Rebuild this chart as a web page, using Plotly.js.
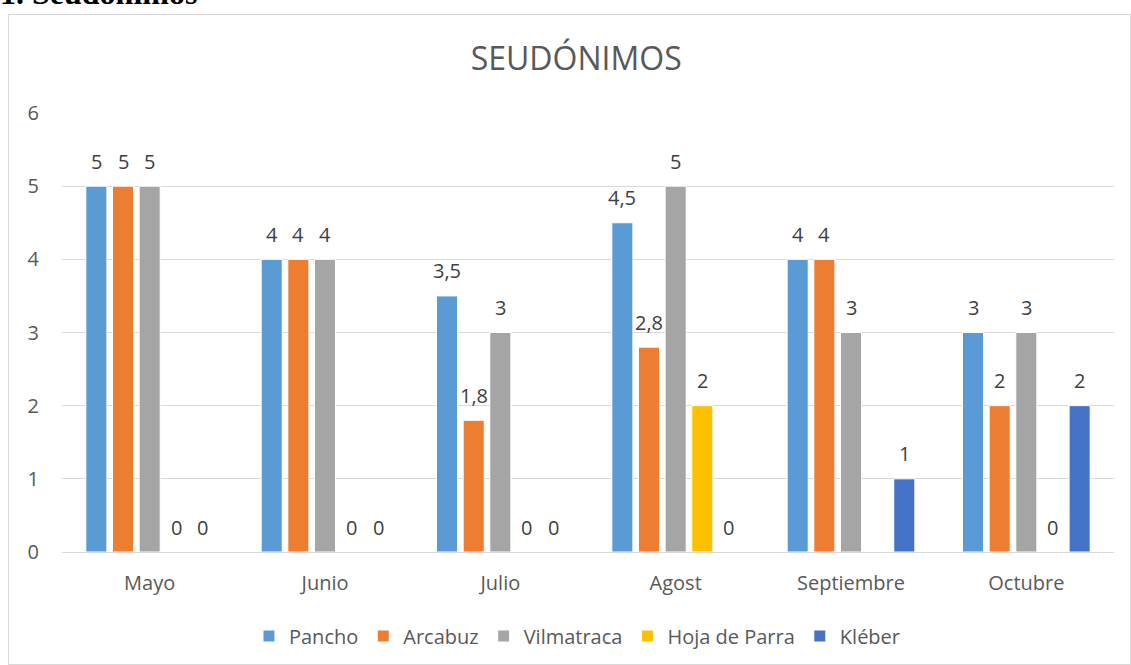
<!DOCTYPE html>
<html><head><meta charset="utf-8">
<script src="https://cdn.plot.ly/plotly-3.0.1.min.js"></script>
<style>
body{margin:0;background:#fff;overflow:hidden;width:1131px;height:665px;position:relative;}
#head{position:absolute;left:0;top:-23px;line-height:32px;font-family:"Liberation Serif",serif;font-weight:bold;font-size:32px;color:#000;white-space:nowrap;}
#chart{position:absolute;left:8px;top:14px;width:1123px;height:651px;border:1px solid #d9d9d9;box-sizing:border-box;}
</style></head><body>
<div id="head">1. Seudónimos</div>
<div id="chart"></div>
<script>
var months = ["Mayo","Junio","Julio","Agost","Septiembre","Octubre"];
var pancho = [5, 4, 3.5, 4.5, 4, 3];
var arcabuz = [5, 4, 1.8, 2.8, 4, 2];
var vilmatraca = [5, 4, 3, 5, 3, 3];
var hojaDeParra = [0, 0, 0, 2, null, 0];
var kleber = [0, 0, 0, 0, 1, 2];
var seriesNames = ["Pancho","Arcabuz","Vilmatraca","Hoja de Parra","Kléber"];
var seriesData = [pancho, arcabuz, vilmatraca, hojaDeParra, kleber];
var colors = ["#5B9BD5","#ED7D31","#A5A5A5","#FFC000","#4472C4"];

var bargap = 0.24;
var traces = seriesData.map(function(d,j){
  return {type:'bar', name:seriesNames[j], x:months, y:d,
    marker:{color:colors[j], line:{color:'#ffffff', width:1}},
    hoverinfo:'none'};
});
var n = seriesData.length;
var w = (1-bargap)/n;
var annotations = [];
seriesData.forEach(function(d,j){
  d.forEach(function(v,i){
    if(v===null) return;
    annotations.push({x:i+(j-(n-1)/2)*w, y:v, xref:'x', yref:'y',
      text:String(v).replace('.',','), showarrow:false, yanchor:'middle', yshift:25,
      font:{family:'Open Sans, sans-serif', size:20, color:'#404040'}});
  });
});
var layout = {
  width:1121, height:649,
  margin:{l:53, r:16, t:98, b:112, autoexpand:false},
  paper_bgcolor:'#fff', plot_bgcolor:'#fff',
  title:{text:'SEUDÓNIMOS', x:0.506, xref:'container', xanchor:'center', y:1-44/649, yanchor:'middle',
    font:{family:'Open Sans, sans-serif', size:32, color:'#595959'}},
  barmode:'group', bargap:bargap, bargroupgap:0.21,
  font:{family:'Open Sans, sans-serif', color:'#595959'},
  xaxis:{type:'category', automargin:false, showgrid:false, showline:true, linecolor:'#d9d9d9', linewidth:1,
    ticks:'', ticklabelstandoff:13, tickfont:{size:20, color:'#595959'}},
  yaxis:{range:[0,6], dtick:1, automargin:false, showgrid:true, gridcolor:'#d9d9d9', gridwidth:1, zeroline:false,
    showline:false, ticks:'', ticklabelstandoff:22, tickfont:{size:20, color:'#595959'}},
  showlegend:true,
  legend:{orientation:'h', x:0.49, xanchor:'center', yref:'container', y:1-621/649, yanchor:'middle',
    font:{size:20, color:'#595959'}, itemwidth:30, traceorder:'normal'},
  annotations:annotations
};
Plotly.newPlot('chart', traces, layout, {displayModeBar:false, staticPlot:true});
</script>
</body></html>
